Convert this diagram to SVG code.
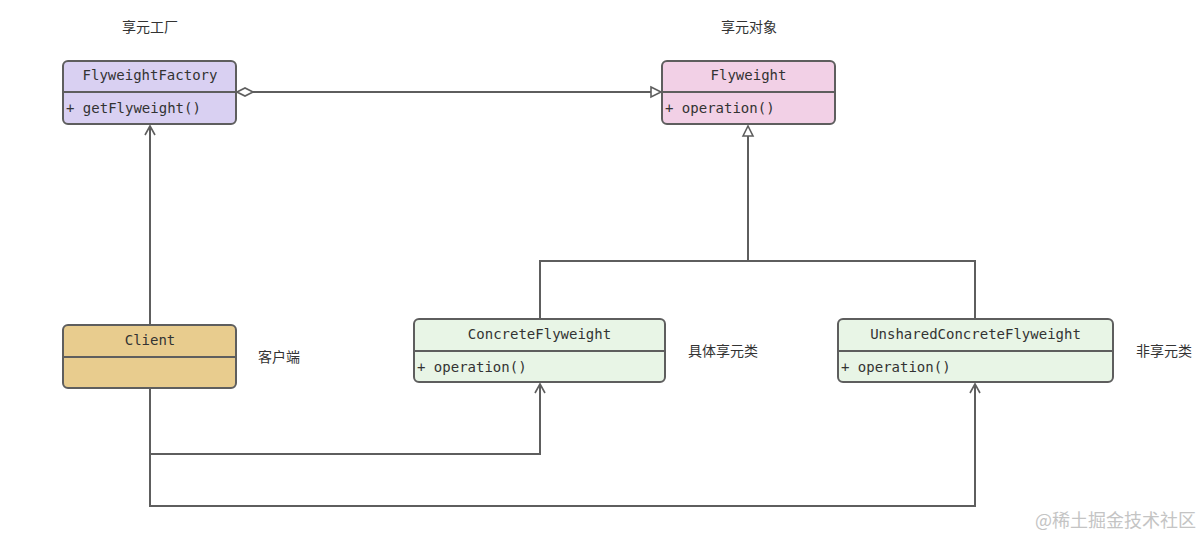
<svg xmlns="http://www.w3.org/2000/svg" width="1202" height="538" viewBox="0 0 1202 538">
<defs>
<style>
.box{stroke:#5e5e5e;stroke-width:2}
.div{stroke:#5e5e5e;stroke-width:2}
.t{font-family:"DejaVu Sans Mono",monospace;font-size:14px;fill:#333}
.c{font-family:"Noto Sans CJK SC",sans-serif;font-size:14px;fill:#333}
.ln{fill:none;stroke:#5e5e5e;stroke-width:2}
</style>
<marker id="open" markerWidth="12" markerHeight="12" refX="10" refY="6" orient="auto" markerUnits="userSpaceOnUse">
<path d="M1,1 L10,6 L1,11" fill="none" stroke="#5e5e5e" stroke-width="1.6"/>
</marker>
<marker id="tri" markerWidth="14" markerHeight="14" refX="11" refY="7" orient="auto" markerUnits="userSpaceOnUse">
<path d="M1,2 L11,7 L1,12 Z" fill="#fff" stroke="#5e5e5e" stroke-width="1.6"/>
</marker>
<marker id="dia" markerWidth="20" markerHeight="12" refX="1" refY="6" orient="auto" markerUnits="userSpaceOnUse">
<path d="M1,6 L9,2 L17,6 L9,10 Z" fill="#fff" stroke="#5e5e5e" stroke-width="1.6"/>
</marker>
</defs>
<rect width="1202" height="538" fill="#fff"/>
<g id="connectors">
<path class="ln" d="M237,92 L661,92" marker-start="url(#dia)" marker-end="url(#tri)"/>
<path class="ln" d="M748,261 L748,126" marker-end="url(#tri)"/>
<path class="ln" d="M540,319 L540,261 L975,261 L975,319"/>
<path class="ln" d="M150,325 L150,126" marker-end="url(#open)"/>
<path class="ln" d="M150,389 L150,454 L540,454 L540,384" marker-end="url(#open)"/>
<path class="ln" d="M150,454 L150,506 L975,506 L975,384" marker-end="url(#open)"/>
</g>
<g id="factory">
<rect class="box" x="63" y="61" width="173" height="63" rx="5" fill="#d9d0f2"/>
<line class="div" x1="63" y1="92" x2="236" y2="92"/>
<text class="t" x="150" y="80" text-anchor="middle">FlyweightFactory</text>
<text class="t" x="66" y="113">+ getFlyweight()</text>
</g>
<g id="flyweight">
<rect class="box" x="662" y="61" width="173" height="63" rx="5" fill="#f2d0e6"/>
<line class="div" x1="662" y1="92" x2="835" y2="92"/>
<text class="t" x="748.5" y="80" text-anchor="middle">Flyweight</text>
<text class="t" x="665" y="113">+ operation()</text>
</g>
<g id="client">
<rect class="box" x="63" y="325" width="173" height="63" rx="5" fill="#e8cc8e"/>
<line class="div" x1="63" y1="357" x2="236" y2="357"/>
<text class="t" x="150" y="345" text-anchor="middle">Client</text>
</g>
<g id="concrete">
<rect class="box" x="414" y="319" width="251" height="63" rx="5" fill="#e8f5e6"/>
<line class="div" x1="414" y1="351" x2="665" y2="351"/>
<text class="t" x="539.5" y="339" text-anchor="middle">ConcreteFlyweight</text>
<text class="t" x="417" y="372">+ operation()</text>
</g>
<g id="unshared">
<rect class="box" x="838" y="319" width="275" height="63" rx="5" fill="#e8f5e6"/>
<line class="div" x1="838" y1="351" x2="1113" y2="351"/>
<text class="t" x="975.5" y="339" text-anchor="middle">UnsharedConcreteFlyweight</text>
<text class="t" x="841" y="372">+ operation()</text>
</g>
<g id="labels">
<text class="c" x="150" y="32" text-anchor="middle">享元工厂</text>
<text class="c" x="749" y="32" text-anchor="middle">享元对象</text>
<text class="c" x="258" y="362">客户端</text>
<text class="c" x="688" y="356">具体享元类</text>
<text class="c" x="1136" y="356">非享元类</text>
<text x="1035" y="527" font-family="Noto Sans CJK SC,sans-serif" font-size="18" fill="#c4c4c4">@稀土掘金技术社区</text>
</g>
</svg>
